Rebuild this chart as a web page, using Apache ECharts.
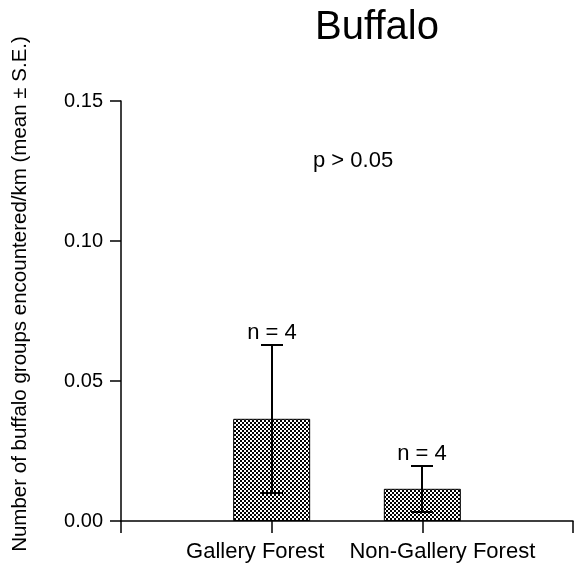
<!DOCTYPE html>
<html>
<head>
<meta charset="utf-8">
<script src="https://cdn.jsdelivr.net/npm/echarts@6/dist/echarts.min.js"></script>
<style>
  html, body { margin: 0; padding: 0; background: #fff; }
  #chart { width: 576px; height: 567px; }
</style>
</head>
<body>
<div id="chart"></div>
<script>
// Habitat categories (empty slots pad the axis on both sides)
const categories = ['', 'Gallery Forest', 'Non-Gallery Forest', ''];
const habitats = ['Gallery Forest', 'Non-Gallery Forest'];
const means = [0.0365, 0.0115];
const stdErrors = [0.0265, 0.0083];
const sampleSizes = [4, 4];
const yTicks = [0, 0.05, 0.10, 0.15];

const FONT = 'Arial, "Liberation Sans", sans-serif';

// 2px black/white checkerboard used as the bar fill
function checkerPattern() {
  const c = document.createElement('canvas');
  c.width = 4; c.height = 4;
  const ctx = c.getContext('2d');
  ctx.fillStyle = '#ffffff';
  ctx.fillRect(0, 0, 4, 4);
  ctx.fillStyle = '#000000';
  ctx.fillRect(0, 0, 2, 2);
  ctx.fillRect(2, 2, 2, 2);
  return { image: c, repeat: 'repeat' };
}

const barData = habitats.map((h, i) => [h, means[i]]);
const errData = habitats.map((h, i) => [h, means[i] - stdErrors[i], means[i] + stdErrors[i], sampleSizes[i]]);

const chart = echarts.init(document.getElementById('chart'), null, { renderer: 'canvas' });

chart.setOption({
  animation: false,
  backgroundColor: '#ffffff',
  title: {
    text: 'Buffalo',
    left: 372,
    top: 3,
    textAlign: 'center',
    textStyle: { fontFamily: FONT, fontSize: 40, fontWeight: 'normal', color: '#000' }
  },
  grid: { left: 121, top: 101, width: 456, height: 420, containLabel: false },
  xAxis: {
    type: 'category',
    data: categories,
    boundaryGap: false,
    axisLine: { lineStyle: { color: '#000', width: 1.5 } },
    axisTick: { show: true, length: 12, inside: false, lineStyle: { color: '#000', width: 1.5 } },
    axisLabel: {
      margin: 20,
      interval: 0,
      formatter: function (v) {
        if (v === 'Gallery Forest') return '{l|' + v + '}';
        if (v === 'Non-Gallery Forest') return '{r|' + v + '}';
        return '';
      },
      rich: {
        l: { fontFamily: FONT, fontSize: 22, color: '#000', padding: [0, 33, 0, 0] },
        r: { fontFamily: FONT, fontSize: 22, color: '#000', padding: [0, 0, 0, 40] }
      }
    },
    splitLine: { show: false }
  },
  yAxis: {
    type: 'value',
    min: 0,
    max: 0.15,
    interval: 0.05,
    axisLine: { show: true, lineStyle: { color: '#000', width: 1.5 } },
    axisTick: { show: true, length: 11, lineStyle: { color: '#000', width: 1.5 } },
    axisLabel: {
      margin: 18,
      fontFamily: FONT,
      fontSize: 20,
      color: '#000',
      formatter: v => yTicks.some(t => Math.abs(t - v) < 1e-9) ? v.toFixed(2) : ''
    },
    splitLine: { show: false }
  },
  graphic: [
    {
      type: 'text',
      x: 20,
      y: 294,
      rotation: Math.PI / 2,
      style: {
        text: 'Number of buffalo groups encountered/km (mean \u00b1 S.E.)',
        fontFamily: FONT, fontSize: 20.5, fill: '#000',
        align: 'center', verticalAlign: 'middle'
      }
    },
    {
      type: 'text',
      left: 313,
      top: 150,
      style: { text: 'p > 0.05', fontFamily: FONT, fontSize: 22, fill: '#000' }
    }
  ],
  series: [
    {
      type: 'bar',
      data: barData,
      barWidth: 77,
      itemStyle: { color: checkerPattern(), borderColor: '#000', borderWidth: 1 },
      z: 2
    },
    {
      type: 'custom',
      data: errData,
      z: 3,
      renderItem: function (params, api) {
        const cat = api.value(0);
        const lo = api.coord([cat, api.value(1)]);
        const hi = api.coord([cat, api.value(2)]);
        // snap to whole pixels so the 2px strokes stay solid
        const x = Math.round(hi[0]);
        const yHi = Math.round(hi[1]);
        const yLo = Math.round(lo[1]);
        const half = 11;
        const st = { stroke: '#000', lineWidth: 2 };
        return {
          type: 'group',
          children: [
            { type: 'line', shape: { x1: x, y1: yHi, x2: x, y2: yLo }, style: st },
            { type: 'line', shape: { x1: x - half, y1: yHi, x2: x + half, y2: yHi }, style: st },
            { type: 'line', shape: { x1: x - half, y1: yLo, x2: x + half, y2: yLo }, style: st },
            {
              type: 'text',
              x: x,
              y: yHi - 1,
              style: {
                text: 'n = ' + api.value(3),
                fontFamily: FONT,
                fontSize: 22,
                fill: '#000',
                align: 'center',
                verticalAlign: 'bottom'
              }
            }
          ]
        };
      }
    }
  ]
});
</script>
</body>
</html>
